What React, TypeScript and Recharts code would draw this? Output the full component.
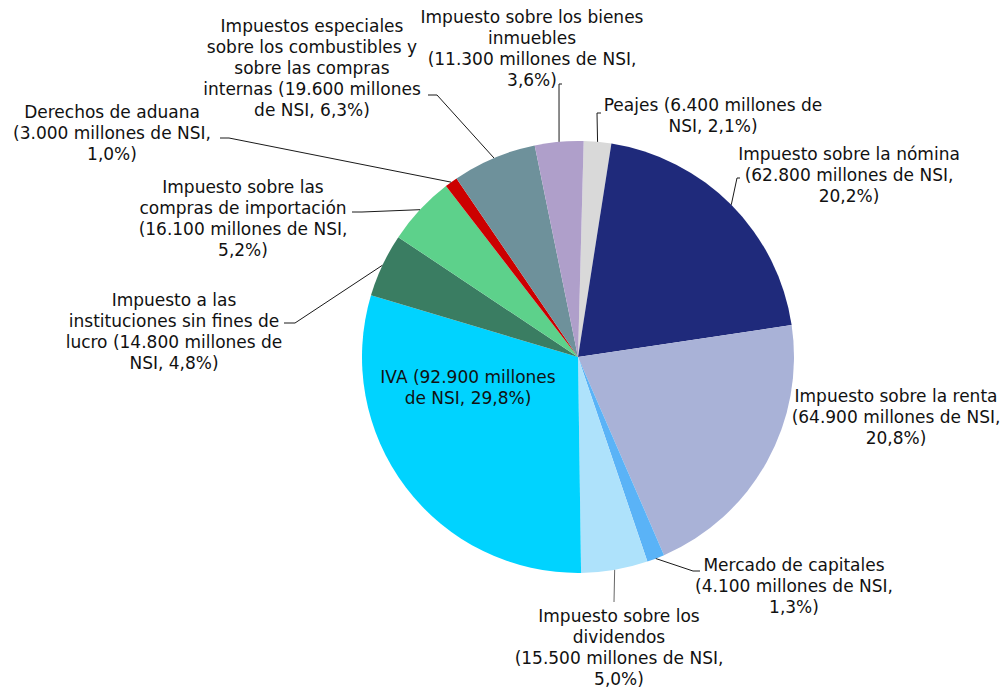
import { PieChart, Pie, Cell } from "recharts"

// Recaudación por tipo de impuesto (millones de NSI), en el sentido de las agujas del reloj desde arriba
const categories = [
  "Peajes",
  "Impuesto sobre la nómina",
  "Impuesto sobre la renta",
  "Mercado de capitales",
  "Impuesto sobre los dividendos",
  "IVA",
  "Impuesto a las instituciones sin fines de lucro",
  "Impuesto sobre las compras de importación",
  "Derechos de aduana",
  "Impuestos especiales sobre los combustibles y sobre las compras internas",
  "Impuesto sobre los bienes inmuebles",
]

const values = [6400, 62800, 64900, 4100, 15500, 92900, 14800, 16100, 3000, 19600, 11300]

const labelLines = [
  ["Peajes (6.400 millones de", "NSI, 2,1%)"],
  ["Impuesto sobre la nómina", "(62.800 millones de NSI,", "20,2%)"],
  ["Impuesto sobre la renta", "(64.900 millones de NSI,", "20,8%)"],
  ["Mercado de capitales", "(4.100 millones de NSI,", "1,3%)"],
  ["Impuesto sobre los", "dividendos", "(15.500 millones de NSI,", "5,0%)"],
  ["IVA (92.900 millones", "de NSI, 29,8%)"],
  ["Impuesto a las", "instituciones sin fines de", "lucro (14.800 millones de", "NSI, 4,8%)"],
  ["Impuesto sobre las", "compras de importación", "(16.100 millones de NSI,", "5,2%)"],
  ["Derechos de aduana", "(3.000 millones de NSI,", "1,0%)"],
  ["Impuestos especiales", "sobre los combustibles y", "sobre las compras", "internas (19.600 millones", "de NSI, 6,3%)"],
  ["Impuesto sobre los bienes", "inmuebles", "(11.300 millones de NSI,", "3,6%)"],
]

const colors = [
  "#D9D9D9", // Peajes
  "#1F2A7B", // nómina
  "#A9B2D7", // renta
  "#5AB3F7", // capitales
  "#AEE2FB", // dividendos
  "#00D3FF", // IVA
  "#3A7D62", // instituciones
  "#5DD18B", // importación
  "#CC0000", // aduana
  "#6E919B", // especiales
  "#AF9FCA", // inmuebles
]

// label placement: text centre x, first line centre y, leader points after the slice edge
const labelLayout: { x: number; y: number; leader: [number, number][] }[] = [
  { x: 713, y: 105, leader: [[597, 113], [601, 113]] },
  { x: 849, y: 154, leader: [[737, 178], [740, 178]] },
  { x: 896, y: 396, leader: [] },
  { x: 794, y: 565, leader: [[693, 571], [700, 571]] },
  { x: 619, y: 616, leader: [[614, 602]] },
  { x: 468, y: 377, leader: [] },
  { x: 174, y: 300, leader: [[295, 323], [284, 323]] },
  { x: 243, y: 187, leader: [[362, 212], [352, 212]] },
  { x: 112, y: 112, leader: [[229, 138], [220, 138]] },
  { x: 312, y: 26, leader: [[437, 95], [428, 95]] },
  { x: 532, y: 17, leader: [[559, 84], [562, 84]] },
]

const data = categories.map((name, i) => ({ name, value: values[i] }))

const RADIAN = Math.PI / 180

const renderLabel = (props: any) => {
  const { cx, cy, midAngle, outerRadius, index } = props
  const layout = labelLayout[index]
  const ex = cx + outerRadius * Math.cos(-midAngle * RADIAN)
  const ey = cy + outerRadius * Math.sin(-midAngle * RADIAN)
  const pts = [[ex, ey], ...layout.leader].map((p) => p.join(",")).join(" ")
  return (
    <g key={`label-${index}`}>
      {layout.leader.length > 0 && (
        <polyline points={pts} fill="none" stroke={index === 4 ? "#666" : "#1a1a1a"} strokeWidth={1} />
      )}
      <text
        x={layout.x}
        y={layout.y}
        textAnchor="middle"
        dominantBaseline="central"
        fill="#111"
        fontSize={17}
        fontFamily="'DejaVu Sans', Verdana, sans-serif"
      >
        {labelLines[index].map((line, j) => (
          <tspan key={j} x={layout.x} y={layout.y + j * 21}>
            {line}
          </tspan>
        ))}
      </text>
    </g>
  )
}

export default function App() {
  return (
    <div style={{ position: "absolute", left: 0, top: 0, width: 1005, height: 688, background: "#fff" }}>
      <PieChart width={1005} height={688} margin={{ top: 0, right: 0, bottom: 0, left: 0 }}>
        <Pie
          data={data}
          dataKey="value"
          nameKey="name"
          cx={578}
          cy={357}
          outerRadius={216}
          startAngle={88.5}
          endAngle={-271.5}
          stroke="none"
          label={renderLabel}
          labelLine={false}
          isAnimationActive={false}
        >
          {data.map((d, i) => (
            <Cell key={d.name} fill={colors[i]} />
          ))}
        </Pie>
      </PieChart>
    </div>
  )
}
